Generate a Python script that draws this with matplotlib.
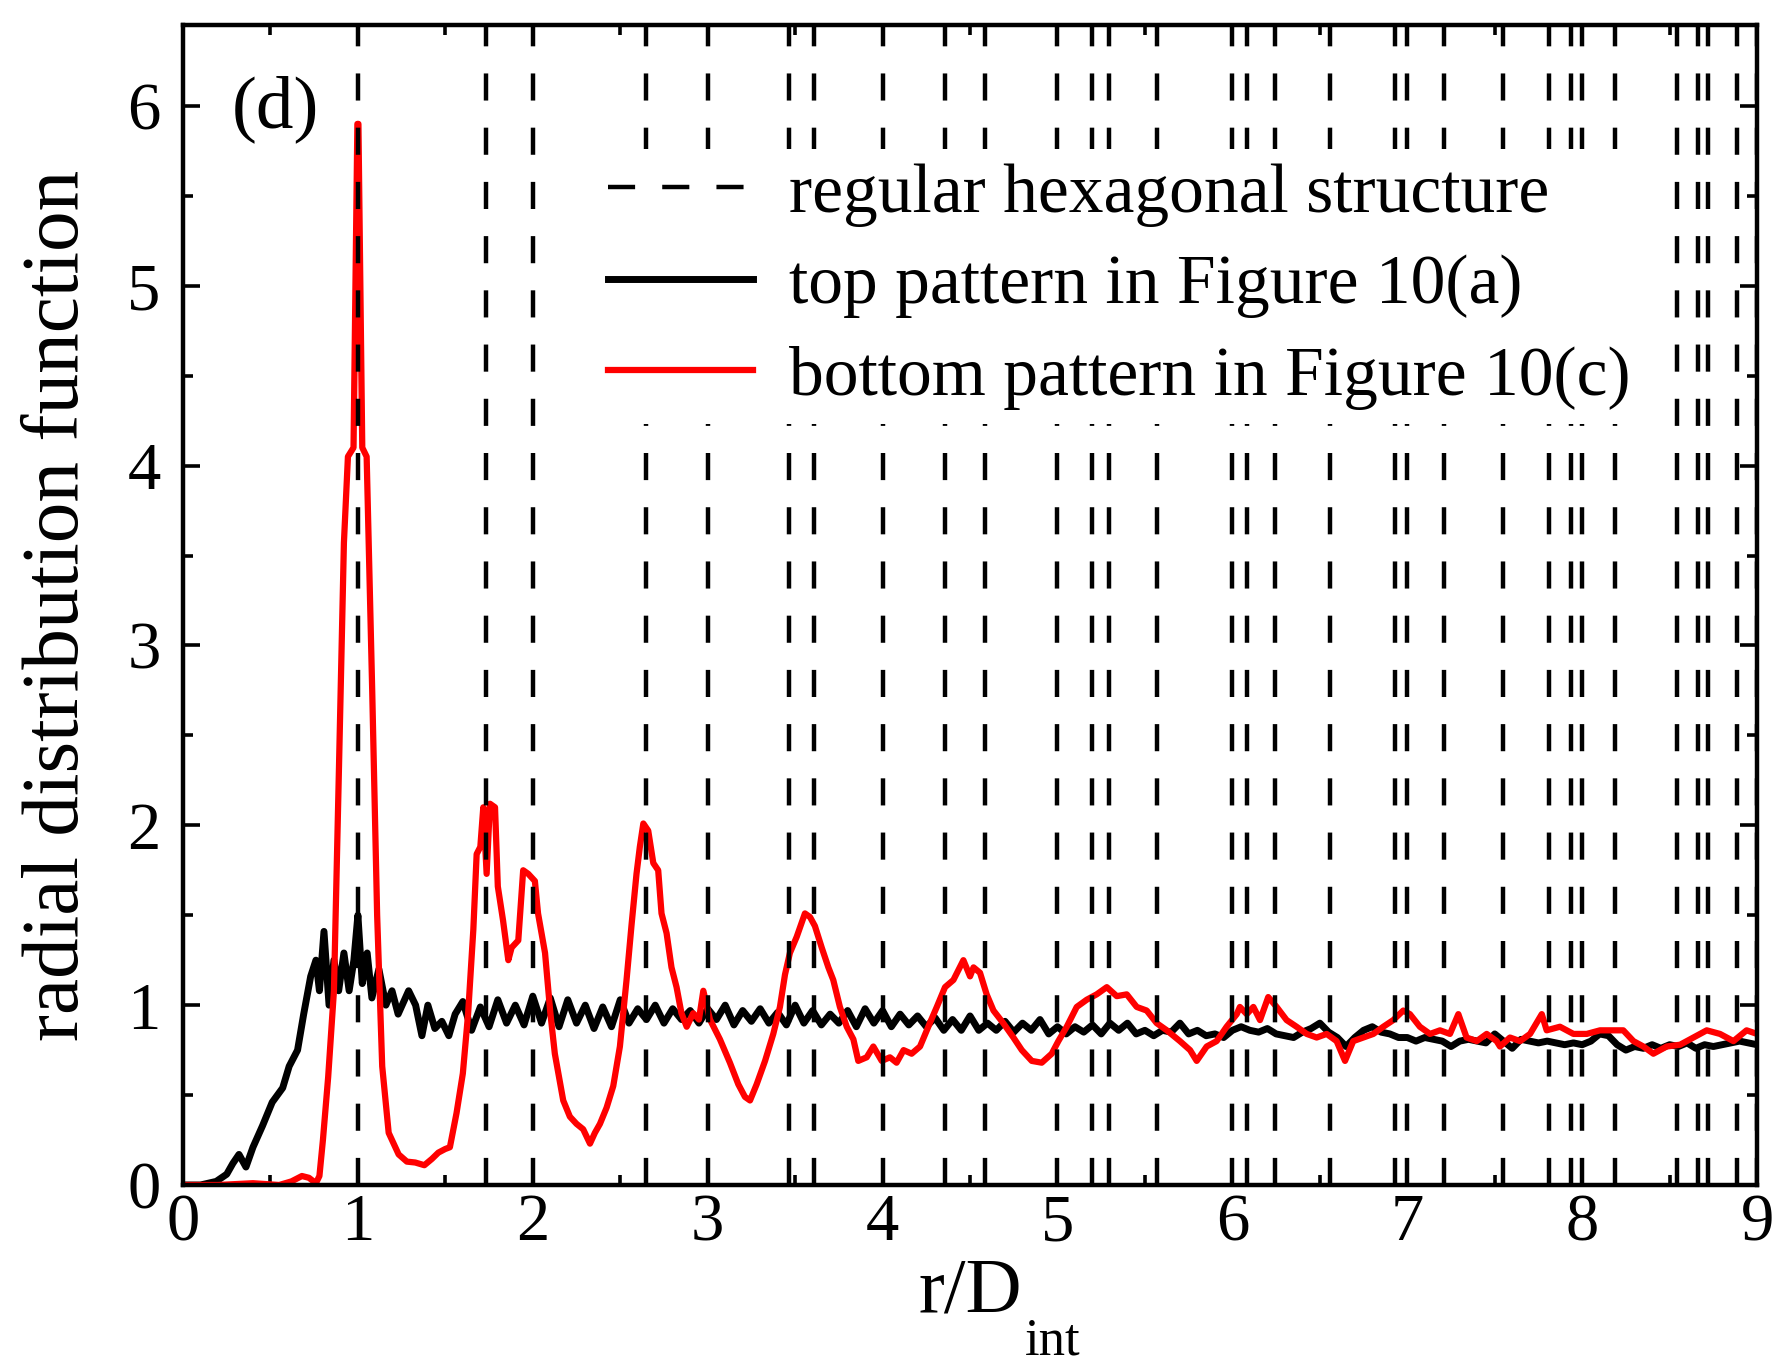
import matplotlib
matplotlib.use("Agg")
import matplotlib.pyplot as plt

plt.rcParams['font.family'] = ['Liberation Serif', 'DejaVu Serif']

# neighbour distances of a regular hexagonal lattice (in units of D_int)
hex_r = [1.0, 1.732, 2.0, 2.646, 3.0, 3.464, 3.606, 4.0, 4.359, 4.583, 5.0,
         5.196, 5.292, 5.568, 6.0, 6.083, 6.245, 6.557, 6.928, 7.0, 7.211,
         7.550, 7.810, 7.937, 8.0, 8.185, 8.544, 8.660, 8.718, 8.888, 9.0]

# top pattern, Figure 10(a)
top_x = [0.0, 0.1, 0.19, 0.25, 0.285, 0.32, 0.36, 0.40, 0.455, 0.51, 0.57, 0.607,
         0.655, 0.69, 0.73, 0.76, 0.78, 0.806, 0.835, 0.863, 0.89, 0.92, 0.95,
         0.977, 1.0, 1.025, 1.053, 1.08, 1.12, 1.16, 1.195, 1.23, 1.29, 1.33,
         1.366, 1.40, 1.44, 1.48, 1.52, 1.556,
         1.60, 1.65, 1.70, 1.75, 1.80, 1.85, 1.90, 1.95, 2.00, 2.05, 2.10, 2.15,
         2.20, 2.25, 2.30, 2.35, 2.40, 2.45, 2.50, 2.55, 2.60, 2.65, 2.70, 2.75,
         2.80, 2.85, 2.90, 2.95, 3.00, 3.05, 3.10, 3.15, 3.20, 3.25, 3.30, 3.35,
         3.40, 3.45, 3.50, 3.55, 3.60, 3.65, 3.70, 3.75, 3.80, 3.85, 3.90, 3.95,
         4.00, 4.05, 4.10, 4.15, 4.20, 4.25, 4.30, 4.35, 4.40, 4.45, 4.50, 4.55,
         4.60, 4.65, 4.70, 4.75, 4.80, 4.85, 4.90, 4.95, 5.00, 5.05, 5.10, 5.15,
         5.20, 5.25, 5.30, 5.35, 5.40, 5.45, 5.50, 5.55, 5.60, 5.65, 5.70, 5.75,
         5.80, 5.85, 5.90, 5.95, 6.00, 6.05, 6.10, 6.15, 6.20, 6.25, 6.30, 6.35,
         6.40, 6.45, 6.50, 6.55, 6.60, 6.65, 6.70, 6.75, 6.80, 6.85, 6.90, 6.95,
         7.00, 7.05, 7.10, 7.15, 7.20, 7.25, 7.30, 7.35, 7.40, 7.45, 7.50, 7.55,
         7.60, 7.65, 7.70, 7.75, 7.80, 7.85, 7.90, 7.95, 8.00, 8.05, 8.10, 8.15,
         8.20, 8.25, 8.30, 8.35, 8.40, 8.45, 8.50, 8.55, 8.60, 8.65, 8.70, 8.75,
         8.80, 8.85, 8.90, 8.95, 9.00]
top_g = [0.0, 0.0, 0.02, 0.06, 0.12, 0.17, 0.10, 0.21, 0.33, 0.46, 0.54, 0.66,
         0.75, 0.95, 1.16, 1.25, 1.08, 1.41, 1.0, 1.25, 1.08, 1.29, 1.08,
         1.25, 1.5, 1.12, 1.29, 1.04, 1.2, 1.0, 1.08, 0.95, 1.08, 1.0,
         0.83, 1.0, 0.87, 0.91, 0.83, 0.95,
         1.02, 0.86, 0.99, 0.88, 1.03, 0.90, 1.00, 0.89, 1.05, 0.90, 1.04, 0.88,
         1.03, 0.90, 1.00, 0.87, 0.99, 0.88, 1.03, 0.90, 0.98, 0.92, 1.00, 0.90,
         0.98, 0.92, 0.97, 0.90, 0.98, 0.92, 1.00, 0.89, 0.97, 0.91, 0.98, 0.90,
         0.96, 0.89, 1.00, 0.90, 0.97, 0.89, 0.95, 0.90, 0.97, 0.88, 0.98, 0.90,
         0.97, 0.88, 0.95, 0.89, 0.94, 0.88, 0.93, 0.86, 0.92, 0.86, 0.94, 0.86,
         0.90, 0.86, 0.91, 0.85, 0.90, 0.86, 0.92, 0.84, 0.88, 0.84, 0.88, 0.85,
         0.89, 0.84, 0.90, 0.86, 0.90, 0.84, 0.86, 0.83, 0.86, 0.85, 0.90, 0.84,
         0.86, 0.83, 0.84, 0.82, 0.86, 0.88, 0.86, 0.85, 0.87, 0.84, 0.83, 0.82,
         0.85, 0.87, 0.90, 0.85, 0.82, 0.77, 0.82, 0.86, 0.88, 0.85, 0.84, 0.82,
         0.82, 0.80, 0.82, 0.81, 0.80, 0.77, 0.80, 0.81, 0.80, 0.79, 0.84, 0.80,
         0.76, 0.81, 0.80, 0.79, 0.80, 0.79, 0.78, 0.79, 0.78, 0.80, 0.84, 0.83,
         0.78, 0.75, 0.77, 0.76, 0.78, 0.76, 0.78, 0.77, 0.79, 0.76, 0.78, 0.77,
         0.78, 0.79, 0.80, 0.79, 0.78]

# bottom pattern, Figure 10(c)
bot_x = [0.0, 0.2, 0.4, 0.55, 0.62, 0.68, 0.72, 0.76, 0.78, 0.80, 0.83, 0.863,
         0.892, 0.92, 0.943, 0.975, 0.997, 1.003, 1.025, 1.05, 1.082, 1.11,
         1.139, 1.176, 1.233, 1.28, 1.328, 1.38, 1.423, 1.46, 1.499, 1.526,
         1.564, 1.60, 1.63, 1.66, 1.679, 1.70, 1.717, 1.736, 1.755, 1.784, 1.80,
         1.83, 1.86, 1.879, 1.917, 1.945, 1.974, 2.012, 2.03, 2.07, 2.10, 2.126,
         2.174, 2.212, 2.25, 2.288, 2.327, 2.355, 2.384, 2.422, 2.46, 2.498,
         2.536, 2.565, 2.593, 2.612, 2.632, 2.66, 2.689, 2.717, 2.736, 2.765,
         2.793, 2.822, 2.85, 2.88, 2.917, 2.95, 2.975, 3.013, 3.07, 3.127, 3.175,
         3.213, 3.242, 3.28, 3.328, 3.375, 3.413, 3.442, 3.47, 3.509, 3.556,
         3.585, 3.613, 3.652, 3.69, 3.718, 3.756, 3.795, 3.833, 3.861, 3.909,
         3.947, 3.995, 4.042, 4.08, 4.12, 4.166, 4.214, 4.27, 4.31, 4.357, 4.405,
         4.462, 4.50, 4.52, 4.557, 4.595, 4.634, 4.69, 4.748, 4.796, 4.853, 4.91,
         4.967, 5.005, 5.053, 5.11, 5.167, 5.224, 5.282, 5.339, 5.396, 5.453,
         5.51, 5.567, 5.625, 5.70, 5.758, 5.796, 5.853, 5.91, 5.967, 6.025,
         6.043, 6.082, 6.12, 6.158, 6.205, 6.253, 6.31, 6.367, 6.425, 6.482,
         6.539, 6.596, 6.644, 6.691, 6.748, 6.806, 6.863, 6.92, 6.977, 7.015,
         7.072, 7.13, 7.187, 7.244, 7.292, 7.339, 7.397, 7.454, 7.511, 7.53,
         7.587, 7.645, 7.702, 7.769, 7.797, 7.873, 7.95, 8.026, 8.102, 8.178,
         8.235, 8.293, 8.35, 8.407, 8.483, 8.56, 8.636, 8.712, 8.788, 8.865,
         8.94, 9.0]
bot_g = [0.0, 0.0, 0.01, 0.0, 0.02, 0.05, 0.04, 0.01, 0.05, 0.25, 0.6, 1.08,
         2.33, 3.57, 4.05, 4.1, 5.9, 5.9, 4.1, 4.05, 2.74, 1.5,
         0.66, 0.29, 0.17, 0.13, 0.125, 0.11, 0.145, 0.18, 0.20, 0.21,
         0.40, 0.62, 0.95, 1.42, 1.84, 1.88, 2.1, 1.73, 2.12, 2.1, 1.66,
         1.47, 1.25, 1.32, 1.36, 1.75, 1.73, 1.69, 1.51, 1.29, 0.96, 0.73,
         0.47, 0.38, 0.34, 0.31, 0.23, 0.29, 0.34, 0.43, 0.55, 0.77,
         1.14, 1.45, 1.73, 1.88, 2.01, 1.97, 1.79, 1.75, 1.51, 1.40,
         1.21, 1.10, 0.955, 0.88, 0.955, 0.92, 1.08, 0.92, 0.81, 0.68, 0.56,
         0.49, 0.47, 0.56, 0.69, 0.84, 0.99, 1.17, 1.29, 1.38, 1.51,
         1.49, 1.44, 1.32, 1.21, 1.14, 0.99, 0.88, 0.81, 0.69, 0.71,
         0.77, 0.69, 0.71, 0.68, 0.75, 0.73, 0.77, 0.90, 0.99, 1.10, 1.14,
         1.25, 1.16, 1.21, 1.18, 1.06, 0.97, 0.90, 0.82, 0.75, 0.69, 0.68,
         0.73, 0.80, 0.88, 0.99, 1.03, 1.06, 1.10, 1.05, 1.06, 0.99,
         0.97, 0.90, 0.86, 0.80, 0.75, 0.69, 0.77, 0.80, 0.88, 0.95,
         0.99, 0.95, 0.99, 0.917, 1.045, 0.99, 0.917, 0.88, 0.84, 0.82,
         0.84, 0.80, 0.69, 0.80, 0.82, 0.84, 0.88, 0.917, 0.97, 0.95,
         0.88, 0.84, 0.86, 0.84, 0.95, 0.82, 0.80, 0.84, 0.80, 0.77,
         0.82, 0.80, 0.84, 0.95, 0.86, 0.88, 0.84, 0.84, 0.86, 0.86,
         0.86, 0.80, 0.77, 0.73, 0.77, 0.78, 0.82, 0.86, 0.84, 0.80,
         0.86, 0.84]

x_ticks = [0, 1, 2, 3, 4, 5, 6, 7, 8, 9]
y_ticks = [0, 1, 2, 3, 4, 5, 6]

fig = plt.figure(figsize=(17.75, 13.72), dpi=100)
ax = fig.add_axes([0.1031, 0.1363, 0.8868, 0.8455])

for i, r in enumerate(hex_r):
    ln = ax.axvline(r, color='black', lw=3.2, linestyle=(0, (6.1, 6.1)), zorder=3)
    if i == 0:
        hex_line = ln

top_line, = ax.plot(top_x, top_g, color='black', lw=5.0, zorder=2)
bot_line, = ax.plot(bot_x, bot_g, color='#ff0000', lw=4.5, zorder=2.5)

ax.set_xlim(0, 9)
ax.set_ylim(0, 6.45)
ax.set_xticks(x_ticks)
ax.set_yticks(y_ticks)
ax.set_xticks([0.5 + k for k in range(9)], minor=True)
ax.set_yticks([0.5 + k for k in range(6)], minor=True)
ax.tick_params(which='both', direction='in', top=True, right=True, width=2.6)
ax.tick_params(which='major', length=12, labelsize=48)
ax.tick_params(which='minor', length=7)
ax.tick_params(axis='x', pad=6)
ax.tick_params(axis='y', pad=16)
for s in ax.spines.values():
    s.set_linewidth(3.2)
    s.set_zorder(4)

ax.set_xlabel('r/D', fontsize=56, labelpad=2)
ax.text(0.535, -0.135, 'int', transform=ax.transAxes, fontsize=38,
        ha='left', va='center')
ax.set_ylabel('radial distribution function', fontsize=58.5, labelpad=23)

ax.text(0.28, 5.98, '(d)', fontsize=54, ha='left', va='center')

leg = ax.legend([hex_line, top_line, bot_line],
                ['regular hexagonal structure', 'top pattern in Figure 10(a)',
                 'bottom pattern in Figure 10(c)'],
                loc='upper left', bbox_to_anchor=(0.261, 0.893), frameon=True,
                fontsize=50, handlelength=2.09, handletextpad=0.52,
                labelspacing=0.4, borderpad=0.2, borderaxespad=0, fancybox=False)
leg.get_frame().set_facecolor('white')
leg.get_frame().set_edgecolor('none')
leg.get_frame().set_alpha(1)

fig.savefig('out.png', dpi=100)
